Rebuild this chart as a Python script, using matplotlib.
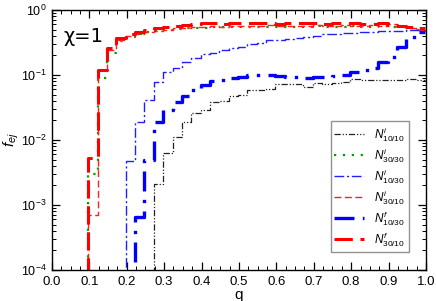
import numpy as np
import matplotlib
matplotlib.use("Agg")
import matplotlib.pyplot as plt
from matplotlib.ticker import MultipleLocator, LogLocator, NullFormatter

plt.rcParams['font.family'] = ['Liberation Sans', 'DejaVu Sans']
plt.rcParams['mathtext.fontset'] = 'custom'
plt.rcParams['mathtext.rm'] = 'Liberation Sans'
plt.rcParams['mathtext.it'] = 'Liberation Sans:italic'
plt.rcParams['mathtext.bf'] = 'Liberation Sans:bold'

# bin edges in q (step histograms)
q_edges = [0.0975, 0.1225, 0.1475, 0.1725, 0.1975, 0.2225, 0.2475, 0.2725,
           0.2975, 0.3225, 0.3475, 0.3725, 0.3975, 0.4225, 0.4475, 0.4725,
           0.4975, 0.5225, 0.5475, 0.5725, 0.5975, 0.6225, 0.6475, 0.6725,
           0.6975, 0.7225, 0.7475, 0.7725, 0.7975, 0.8225, 0.8475, 0.8725,
           0.8975, 0.9225, 0.9475, 0.9725, 0.9975]

# N^f_30/10 (starts at first edge)
red_f = [5.3e-3, 0.12, 0.26, 0.37, 0.43, 0.46, 0.50, 0.53, 0.55, 0.56, 0.58, 0.60,
         0.62, 0.62, 0.61, 0.63, 0.62, 0.63, 0.62, 0.63, 0.61, 0.63, 0.62, 0.62,
         0.63, 0.61, 0.62, 0.63, 0.62, 0.61, 0.60, 0.62, 0.58, 0.56, 0.55, 0.52]
# N^i_30/10
red_i = [7e-4, 0.12, 0.24, 0.35, 0.40, 0.43, 0.46, 0.48, 0.50, 0.52, 0.53, 0.54,
         0.55, 0.56, 0.55, 0.57, 0.56, 0.57, 0.56, 0.58, 0.56, 0.57, 0.56, 0.57,
         0.58, 0.56, 0.57, 0.58, 0.56, 0.57, 0.58, 0.57, 0.60, 0.56, 0.52, 0.50]
# N^i_30/30
green_i = [3e-3, 0.09, 0.22, 0.33, 0.38, 0.42, 0.45, 0.48, 0.50, 0.51, 0.52, 0.53,
           0.53, 0.54, 0.54, 0.55, 0.54, 0.55, 0.54, 0.55, 0.54, 0.55, 0.54, 0.55,
           0.56, 0.55, 0.54, 0.55, 0.56, 0.55, 0.54, 0.56, 0.55, 0.54, 0.52, 0.50]
# N^i_10/30 (starts at edge index 4)
blue_i = [4.7e-3, 0.019, 0.041, 0.078, 0.11, 0.13, 0.16, 0.18, 0.21, 0.22, 0.24,
          0.26, 0.27, 0.30, 0.31, 0.34, 0.35, 0.36, 0.37, 0.38, 0.40, 0.42, 0.43,
          0.44, 0.44, 0.45, 0.45, 0.47, 0.48, 0.48, 0.50, 0.50]
# N^f_10/30 (starts at edge index 5)
blue_f = [6.6e-4, 5e-3, 0.019, 0.029, 0.038, 0.048, 0.058, 0.07, 0.082, 0.085,
          0.09, 0.093, 0.10, 0.10, 0.10, 0.095, 0.093, 0.092, 0.09, 0.092, 0.093,
          0.095, 0.10, 0.11, 0.12, 0.13, 0.16, 0.19, 0.27, 0.38, 0.46]
# N^i_10/10 (starts at edge index 7)
black_i = [2.1e-3, 6.3e-3, 0.011, 0.019, 0.026, 0.029, 0.038, 0.040, 0.048, 0.05,
           0.059, 0.059, 0.060, 0.073, 0.073, 0.073, 0.066, 0.074, 0.072, 0.076,
           0.078, 0.088, 0.084, 0.083, 0.084, 0.083, 0.084, 0.088, 0.083]

labels = [r'$N^{i}_{10/10}$', r'$N^{i}_{30/30}$', r'$N^{i}_{10/30}$',
          r'$N^{i}_{30/10}$', r'$N^{f}_{10/30}$', r'$N^{f}_{30/10}$']

fig = plt.figure(figsize=(4.36, 3.01), dpi=100)
ax = fig.add_axes([0.119, 0.103, 0.858, 0.864])


def draw(vals, start, **kw):
    edges = q_edges[start:start + len(vals) + 1]
    x = [edges[0]] + list(edges)
    y = [1e-6] + list(vals) + [vals[-1]]
    ax.step(x, y, where='post', **kw)


draw(black_i, 7, color='#222222', lw=0.9, ls=(0, (5, 1.5, 1, 1.5, 1, 1.5)), label=labels[0])
draw(green_i, 0, color='#00a000', lw=1.6, ls=(0, (1, 3)), label=labels[1])
draw(blue_i, 4, color='#2020ff', lw=1.0, ls=(0, (7, 2, 1.5, 2)), label=labels[2])
draw(red_i, 0, color='#ff2020', lw=1.0, ls=(0, (5, 2.5)), label=labels[3])
draw(blue_f, 5, color='#0000ff', lw=2.4, ls=(0, (6, 2.5, 1, 2.5)), label=labels[4])
draw(red_f, 0, color='#ff0000', lw=2.2, ls=(0, (6, 2.5)), label=labels[5])

ax.set_yscale('log')
ax.set_xlim(0, 1.0)
ax.set_ylim(1e-4, 1)
ax.xaxis.set_major_locator(MultipleLocator(0.1))
ax.xaxis.set_minor_locator(MultipleLocator(0.025))
ax.xaxis.set_major_formatter(matplotlib.ticker.FormatStrFormatter('%.1f'))
ax.yaxis.set_major_locator(LogLocator(base=10, numticks=10))
ax.yaxis.set_minor_locator(LogLocator(base=10, subs=np.arange(2, 10), numticks=20))
ax.yaxis.set_minor_formatter(NullFormatter())
ax.tick_params(which='both', direction='in', top=True, right=True, labelsize=9.5)
ax.tick_params(axis='y', labelsize=9, pad=4)
ax.tick_params(which='major', length=6, width=0.9)
ax.tick_params(which='minor', length=3, width=0.7)
ax.tick_params(axis='x', pad=4)
for s in ax.spines.values():
    s.set_linewidth(1.0)

ax.set_xlabel('q', fontsize=11, labelpad=0.5)
ax.set_ylabel(r'$f_{ej}$', fontsize=11, labelpad=0)
ax.text(0.03, 0.935, 'χ=1', transform=ax.transAxes, fontsize=14, va='top', ha='left',
        family='DejaVu Sans')

leg = ax.legend(loc='lower right', bbox_to_anchor=(0.97, 0.045), fontsize=8.5,
                handlelength=2.5, frameon=True, fancybox=False, edgecolor='#777777',
                borderpad=0.3, labelspacing=0.2, handletextpad=0.9)
leg.get_frame().set_linewidth(1.0)

fig.savefig('out.png', dpi=100)
